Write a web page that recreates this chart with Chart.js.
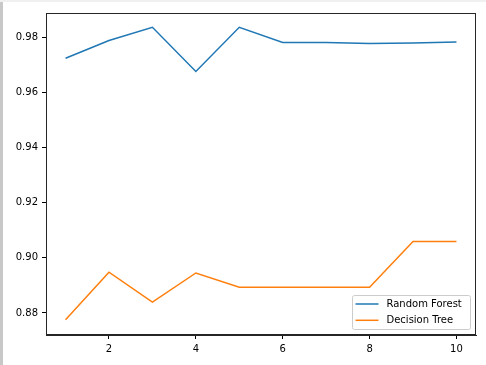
<!DOCTYPE html>
<html>
<head>
<meta charset="utf-8">
<script src="https://cdn.jsdelivr.net/npm/chart.js@4/dist/chart.umd.min.js"></script>
<style>
html,body{margin:0;padding:0;background:#fff;}
#wrap{position:relative;width:486px;height:365px;}
#topband{position:absolute;left:0;top:0;width:486px;height:2px;background:#f0f0f0;}
#leftbar{position:absolute;left:0;top:2px;width:3px;height:363px;background:#c8c8c8;}
canvas{position:absolute;left:0;top:0;}
</style>
</head>
<body>
<div id="wrap">
<canvas id="c" width="486" height="365"></canvas>
<div id="topband"></div>
<div id="leftbar"></div>
</div>
<script>
const xValues = [1, 2, 3, 4, 5, 6, 7, 8, 9, 10];
const randomForest = [0.9724, 0.9788, 0.9836, 0.9676, 0.9836, 0.9781, 0.9781, 0.9777, 0.9779, 0.9783];
const decisionTree = [0.8775, 0.8948, 0.8839, 0.8945, 0.8893, 0.8893, 0.8893, 0.8893, 0.9059, 0.9059];
const seriesLabels = ['Random Forest', 'Decision Tree'];
const seriesColors = ['#1f77b4', '#ff7f0e'];
const xTicks = [2, 4, 6, 8, 10];
const yTicks = [0.88, 0.90, 0.92, 0.94, 0.96, 0.98];
const yTickLabels = ['0.88', '0.90', '0.92', '0.94', '0.96', '0.98'];

const FONT = 'DejaVu Sans';

const framePlugin = {
  id: 'frame',
  afterDatasetsDraw(chart) {
    const {ctx, chartArea: a} = chart;
    ctx.save();
    ctx.strokeStyle = '#262626';
    ctx.lineWidth = 1;
    ctx.strokeRect(Math.round(a.left) + 0.5, Math.round(a.top) + 0.5, Math.round(a.right - a.left) - 1, Math.round(a.bottom - a.top) - 1);
    ctx.restore();
  }
};

const legendPlugin = {
  id: 'mplLegend',
  afterDraw(chart) {
    const ctx = chart.ctx;
    const a = chart.chartArea;
    const bw = 118, bh = 34;
    const bx = a.right - 5.5 - bw, by = a.bottom - 5.5 - bh;
    ctx.save();
    ctx.beginPath();
    const r = 2;
    ctx.moveTo(bx + r, by);
    ctx.lineTo(bx + bw - r, by);
    ctx.quadraticCurveTo(bx + bw, by, bx + bw, by + r);
    ctx.lineTo(bx + bw, by + bh - r);
    ctx.quadraticCurveTo(bx + bw, by + bh, bx + bw - r, by + bh);
    ctx.lineTo(bx + r, by + bh);
    ctx.quadraticCurveTo(bx, by + bh, bx, by + bh - r);
    ctx.lineTo(bx, by + r);
    ctx.quadraticCurveTo(bx, by, bx + r, by);
    ctx.closePath();
    ctx.fillStyle = 'rgba(255,255,255,0.8)';
    ctx.fill();
    ctx.strokeStyle = '#cccccc';
    ctx.lineWidth = 1;
    ctx.stroke();
    ctx.font = '10px "' + FONT + '"';
    ctx.textBaseline = 'middle';
    ctx.fillStyle = '#000';
    chart.data.datasets.forEach((ds, i) => {
      const y = by + 8.5 + i * 16.3;
      ctx.strokeStyle = ds.borderColor;
      ctx.lineWidth = 1.5;
      ctx.beginPath();
      ctx.moveTo(bx + 3, y);
      ctx.lineTo(bx + 26, y);
      ctx.stroke();
      ctx.fillText(ds.label, bx + 34, y + 0.5);
    });
    ctx.restore();
  }
};

new Chart(document.getElementById('c'), {
  type: 'line',
  data: {
    datasets: [
      {label: seriesLabels[0], data: xValues.map((x, i) => ({x, y: randomForest[i]})), borderColor: seriesColors[0], backgroundColor: seriesColors[0], borderWidth: 1.5, pointRadius: 0, tension: 0, fill: false},
      {label: seriesLabels[1], data: xValues.map((x, i) => ({x, y: decisionTree[i]})), borderColor: seriesColors[1], backgroundColor: seriesColors[1], borderWidth: 1.5, pointRadius: 0, tension: 0, fill: false}
    ]
  },
  options: {
    responsive: false,
    animation: false,
    devicePixelRatio: 1,
    layout: {padding: {left: 0, right: 10, top: 13, bottom: 0}},
    plugins: {legend: {display: false}, tooltip: {enabled: false}},
    scales: {
      x: {
        type: 'linear',
        min: 0.55, max: 10.45,
        afterBuildTicks(s) { s.ticks = xTicks.map(v => ({value: v})); },
        afterFit(s) { s.height = 30; },
        grid: {display: true, drawOnChartArea: false, drawTicks: true, tickLength: 4, color: '#000', tickWidth: 1},
        border: {display: true, color: '#262626', width: 1},
        ticks: {font: {family: FONT, size: 10}, color: '#000', padding: 4, maxRotation: 0, callback: v => String(v)}
      },
      y: {
        type: 'linear',
        min: 0.872, max: 0.9888,
        afterBuildTicks(s) { s.ticks = yTicks.map(v => ({value: v})); },
        afterFit(s) { s.width = 46; },
        grid: {display: true, drawOnChartArea: false, drawTicks: true, tickLength: 4, color: '#000', tickWidth: 1},
        border: {display: true, color: '#262626', width: 1},
        ticks: {font: {family: FONT, size: 10}, color: '#000', padding: 4, callback: (v) => { const i = yTicks.findIndex(t => Math.abs(t - v) < 1e-9); return i >= 0 ? yTickLabels[i] : ''; }}
      }
    }
  },
  plugins: [framePlugin, legendPlugin]
});
</script>
</body>
</html>
